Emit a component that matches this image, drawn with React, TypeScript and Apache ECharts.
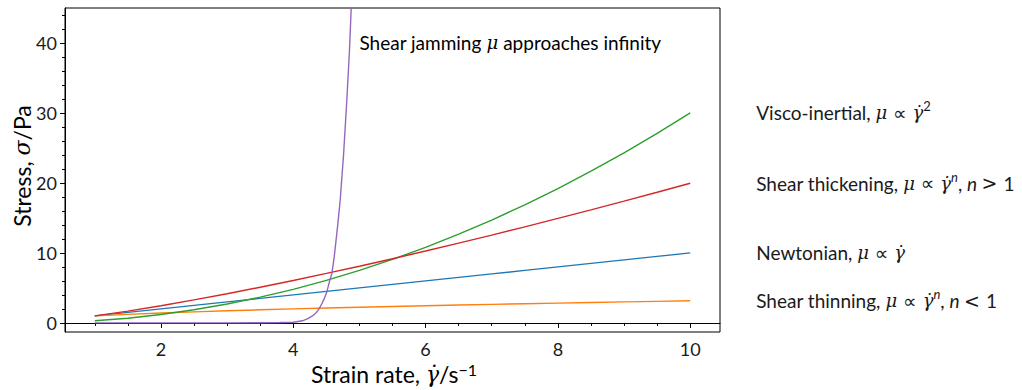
import React, { useEffect, useRef } from "react";
import * as echarts from "echarts";

const xs = [1, 1.5, 2, 2.5, 3, 3.5, 4, 4.5, 5, 5.5, 6, 6.5, 7, 7.5, 8, 8.5, 9, 9.5, 10];
const newtonian = [1, 1.5, 2, 2.5, 3, 3.5, 4, 4.5, 5, 5.5, 6, 6.5, 7, 7.5, 8, 8.5, 9, 9.5, 10];
const thinning = [1, 1.22, 1.41, 1.58, 1.73, 1.87, 2.0, 2.12, 2.24, 2.35, 2.45, 2.55, 2.65, 2.74, 2.83, 2.92, 3.0, 3.08, 3.16];
const thickening = [1, 1.69, 2.46, 3.29, 4.17, 5.1, 6.06, 7.07, 8.1, 9.17, 10.27, 11.4, 12.55, 13.73, 14.93, 16.15, 17.4, 18.67, 19.95];
const viscoInertial = [0.3, 0.675, 1.2, 1.875, 2.7, 3.675, 4.8, 6.075, 7.5, 9.075, 10.8, 12.675, 14.7, 16.875, 19.2, 21.675, 24.3, 27.075, 30];

const jamX = [1, 1.5, 2, 2.5, 3, 3.5, 3.8, 4.0, 4.14, 4.22, 4.29, 4.35, 4.39, 4.43, 4.47, 4.51, 4.55, 4.585, 4.62, 4.67, 4.71, 4.76, 4.81, 4.85, 4.88, 4.92];
const jamY = [0, 0, 0, 0, 0.01, 0.02, 0.05, 0.1, 0.3, 0.6, 1.0, 1.5, 2.0, 2.7, 3.5, 4.5, 6.0, 7.1, 9.5, 13.8, 17.6, 24.0, 31.9, 39, 46, 60];

const xMajor = [2, 4, 6, 8, 10];
const xMinor = [1, 1.5, 2.5, 3, 3.5, 4.5, 5, 5.5, 6.5, 7, 7.5, 8.5, 9, 9.5, 10.5];
const yMajor = [0, 10, 20, 30, 40];
const yMinor = [2, 4, 6, 8, 12, 14, 16, 18, 22, 24, 26, 28, 32, 34, 36, 38, 42, 44];

const SANS = "Lato";
const MATH = "DejaVu Serif";
const REL = "DejaVu Sans";
const TXT = "#1a1a1a";

const makeRich = (fs: number) => ({
  t: { fontFamily: SANS, fontSize: fs, color: TXT, lineHeight: 26 },
  ti: { fontFamily: SANS, fontSize: fs, color: TXT, fontStyle: "italic", lineHeight: 26 },
  m: { fontFamily: MATH, fontSize: fs - 1, color: TXT, fontStyle: "italic", lineHeight: 26 },
  r: { fontFamily: REL, fontSize: fs, color: TXT, lineHeight: 26 },
  sup: { fontFamily: SANS, fontSize: Math.round(fs * 0.7), color: TXT, verticalAlign: "top", lineHeight: 18 },
  supi: { fontFamily: SANS, fontSize: Math.round(fs * 0.7), color: TXT, fontStyle: "italic", verticalAlign: "top", lineHeight: 18 },
});
const rich = makeRich(19);

const GD = "\u03b3\u0307";

const labels = {
  visco: `{t|Visco-inertial, }{m|μ }{r|∝ }{m|${GD}}{sup|2}`,
  thick: `{t|Shear thickening, }{m|μ }{r|∝ }{m|${GD}}{supi|n}{t|, }{ti|n }{r|> }{t|1}`,
  newt: `{t|Newtonian, }{m|μ }{r|∝ }{m|${GD}}`,
  thin: `{t|Shear thinning, }{m|μ }{r|∝ }{m|${GD}}{supi|n}{t|, }{ti|n }{r|< }{t|1}`,
};

function pairs(x: number[], y: number[]) {
  return x.map((v, i) => [v, y[i]]);
}

export default function App() {
  const ref = useRef<HTMLDivElement>(null);
  useEffect(() => {
    if (!ref.current) return;
    const chart = echarts.init(ref.current, undefined, { renderer: "svg" });
    const lineSeries = (name: string, color: string, data: number[][], label?: string) => ({
      name,
      type: "line",
      data,
      showSymbol: false,
      symbol: "none",
      lineStyle: { color, width: 1.4 },
      itemStyle: { color },
      z: 3,
      endLabel: label
        ? {
            show: true,
            distance: 66,
            align: "left",
            verticalAlign: "middle",
            formatter: () => label,
            rich,
          }
        : { show: false },
    });
    const tickLabel = { fontSize: 18, fontFamily: SANS, color: TXT };
    const option: any = {
      animation: false,
      grid: {
        left: 65,
        top: 8,
        width: 655,
        height: 324,
        show: true,
        borderColor: "#000",
        borderWidth: 1,
        backgroundColor: "transparent",
      },
      xAxis: [
        {
          type: "value",
          min: 0.55,
          max: 10.45,
          position: "bottom",
          axisLine: { show: true, lineStyle: { color: "#000", width: 1 } },
          axisTick: { show: true, customValues: xMajor, length: 5, inside: false, lineStyle: { color: "#000" } },
          axisLabel: { show: true, customValues: xMajor, margin: 8, ...tickLabel },
          splitLine: { show: false },
        },
        {
          type: "value",
          min: 0.55,
          max: 10.45,
          position: "bottom",
          offset: 0,
          axisLine: { show: false },
          axisTick: { show: true, customValues: xMinor, length: 3, inside: false, lineStyle: { color: "#000" } },
          axisLabel: { show: false },
          splitLine: { show: false },
        },
      ],
      yAxis: [
        {
          type: "value",
          min: -1.3,
          max: 45,
          position: "left",
          axisLine: { show: true, lineStyle: { color: "#000", width: 1 } },
          axisTick: { show: true, customValues: yMajor, length: 5, inside: false, lineStyle: { color: "#000" } },
          axisLabel: { show: true, customValues: yMajor, margin: 8, ...tickLabel },
          splitLine: { show: false },
        },
        {
          type: "value",
          min: -1.3,
          max: 45,
          position: "left",
          offset: 0,
          axisLine: { show: false },
          axisTick: { show: true, customValues: yMinor, length: 3, inside: false, lineStyle: { color: "#000" } },
          axisLabel: { show: false },
          splitLine: { show: false },
        },
      ],
      series: [
        lineSeries("Newtonian", "#1f77b4", pairs(xs, newtonian), labels.newt),
        lineSeries("Shear thinning", "#ff7f0e", pairs(xs, thinning), labels.thin),
        lineSeries("Visco-inertial", "#2ca02c", pairs(xs, viscoInertial), labels.visco),
        lineSeries("Shear thickening", "#d62728", pairs(xs, thickening), labels.thick),
        lineSeries("Shear jamming", "#9467bd", pairs(jamX, jamY)),
      ],
    };
    chart.setOption(option);
    const p = chart.convertToPixel({ xAxisIndex: 0, yAxisIndex: 0 }, [5, 40]) as number[];
    const titleRich = makeRich(23);
    chart.setOption({
      graphic: [
        {
          type: "text",
          x: p[0],
          y: p[1],
          style: {
            text: "{t|Shear jamming }{m|μ}{t| approaches infinity}",
            rich,
            align: "left",
            verticalAlign: "middle",
          },
        },
        {
          type: "text",
          x: 394,
          y: 374,
          style: {
            text: `{t|Strain rate, }{m|${GD}}{t|/s}{sup|−1}`,
            rich: titleRich,
            align: "center",
            verticalAlign: "middle",
          },
        },
        {
          type: "text",
          x: 22,
          y: 166,
          rotation: Math.PI / 2,
          style: {
            text: "{t|Stress, }{m|σ}{t|/Pa}",
            rich: titleRich,
            align: "center",
            verticalAlign: "middle",
          },
        },
      ],
    });
    return () => chart.dispose();
  }, []);
  return (
    <div
      ref={ref}
      style={{ position: "fixed", left: 0, top: 0, width: 1022, height: 390, background: "#fff" }}
    />
  );
}
